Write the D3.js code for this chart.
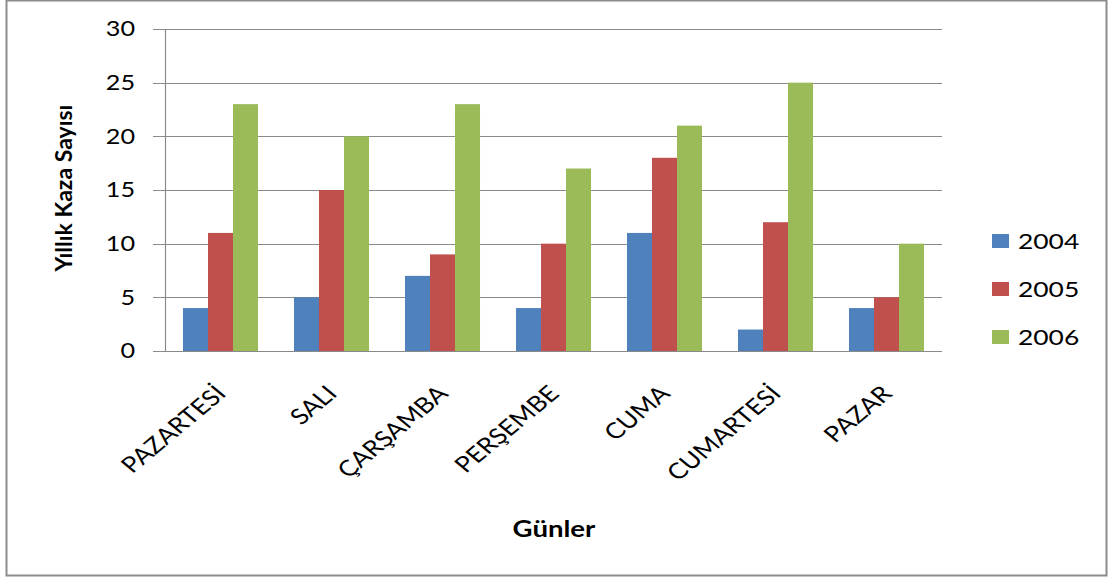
<!DOCTYPE html>
<html>
<head>
<meta charset="utf-8">
<script src="https://cdn.jsdelivr.net/npm/d3@7"></script>
<style>
  html, body { margin: 0; padding: 0; background: #fff; }
  svg { display: block; }
  text { font-family: Lato, "Open Sans", sans-serif; fill: #000; }
</style>
</head>
<body>
<svg id="chart" width="1113" height="581"></svg>
<script>
// Days of the week and yearly accident counts
const days = ["PAZARTESİ", "SALI", "ÇARŞAMBA", "PERŞEMBE", "CUMA", "CUMARTESİ", "PAZAR"];
const years = ["2004", "2005", "2006"];
const values2004 = [4, 5, 7, 4, 11, 2, 4];
const values2005 = [11, 15, 9, 10, 18, 12, 5];
const values2006 = [23, 20, 23, 17, 21, 25, 10];
const yTicks = [0, 5, 10, 15, 20, 25, 30];
const colors = ["#4F81BD", "#C0504D", "#9BBB59"];

const seriesValues = [values2004, values2005, values2006];
const rows = days.map((d, i) => ({ day: d, vals: years.map((y, j) => ({ year: y, value: seriesValues[j][i] })) }));

const svg = d3.select("#chart");
const SX = 1.2; // horizontal widening applied to text

// outer frame
svg.append("rect")
  .attr("x", 6.5).attr("y", 0.5).attr("width", 1100).attr("height", 575)
  .attr("fill", "#fff").attr("stroke", "#8c8c8c").attr("stroke-width", 2);

const plot = { left: 165, right: 942, top: 29, bottom: 351 };

const x0 = d3.scaleBand().domain(days)
  .range([plot.left, plot.right])
  .paddingInner(0.324).paddingOuter(0.162);
const x1 = d3.scaleBand().domain(years).range([0, x0.bandwidth()]);
const y = d3.scaleLinear().domain([0, 30]).range([plot.bottom, plot.top]);

// horizontal gridlines with short outer ticks
svg.append("g").selectAll("line").data(yTicks).join("line")
  .attr("x1", plot.left - 12).attr("x2", plot.right)
  .attr("y1", d => Math.round(y(d)) + 0.5).attr("y2", d => Math.round(y(d)) + 0.5)
  .attr("stroke", "#8a8a8a").attr("stroke-width", 1.2);

// y axis line
svg.append("line")
  .attr("x1", plot.left + 0.5).attr("x2", plot.left + 0.5)
  .attr("y1", plot.top).attr("y2", plot.bottom)
  .attr("stroke", "#8a8a8a").attr("stroke-width", 1.2);

// y tick labels
svg.append("g").selectAll("text").data(yTicks).join("text")
  .attr("transform", d => `translate(135,${y(d)}) scale(${SX},1)`)
  .attr("dy", "0.35em")
  .attr("text-anchor", "end")
  .style("font-size", "21px")
  .text(d => d);

// bars
const groups = svg.append("g").selectAll("g").data(rows).join("g")
  .attr("transform", d => `translate(${x0(d.day)},0)`);
groups.selectAll("rect").data(d => d.vals).join("rect")
  .attr("x", d => x1(d.year))
  .attr("width", x1.bandwidth())
  .attr("y", d => y(d.value))
  .attr("height", d => y(0) - y(d.value))
  .attr("fill", (d, i) => colors[i]);

// baseline redrawn on top of bars
svg.append("line")
  .attr("x1", plot.left - 12).attr("x2", plot.right)
  .attr("y1", Math.round(y(0)) + 0.5).attr("y2", Math.round(y(0)) + 0.5)
  .attr("stroke", "#8a8a8a").attr("stroke-width", 1.2);

// rotated category labels
svg.append("g").selectAll("text").data(days).join("text")
  .attr("transform", d => `translate(${x0(d) + x0.bandwidth() / 2 + 7},395) scale(${SX},1) rotate(-45)`)
  .attr("text-anchor", "end")
  .style("font-size", "22px")
  .text(d => d);

// axis titles
svg.append("text")
  .attr("transform", "translate(72,188) rotate(-90)")
  .attr("text-anchor", "middle")
  .style("font-size", "23px").style("font-weight", "bold")
  .text("Yıllık Kaza Sayısı");

svg.append("text")
  .attr("transform", `translate(554,537) scale(${SX},1)`)
  .attr("text-anchor", "middle")
  .style("font-size", "23px").style("font-weight", "bold")
  .text("Günler");

// legend
const legend = svg.append("g").selectAll("g").data(years).join("g")
  .attr("transform", (d, i) => `translate(992,${241 + i * 48})`);
legend.append("rect")
  .attr("x", 0).attr("y", -7).attr("width", 17).attr("height", 14)
  .attr("fill", (d, i) => colors[i]);
legend.append("text")
  .attr("transform", `translate(26,0) scale(${SX},1)`)
  .attr("dy", "0.35em")
  .style("font-size", "22px")
  .text(d => d);
</script>
</body>
</html>
